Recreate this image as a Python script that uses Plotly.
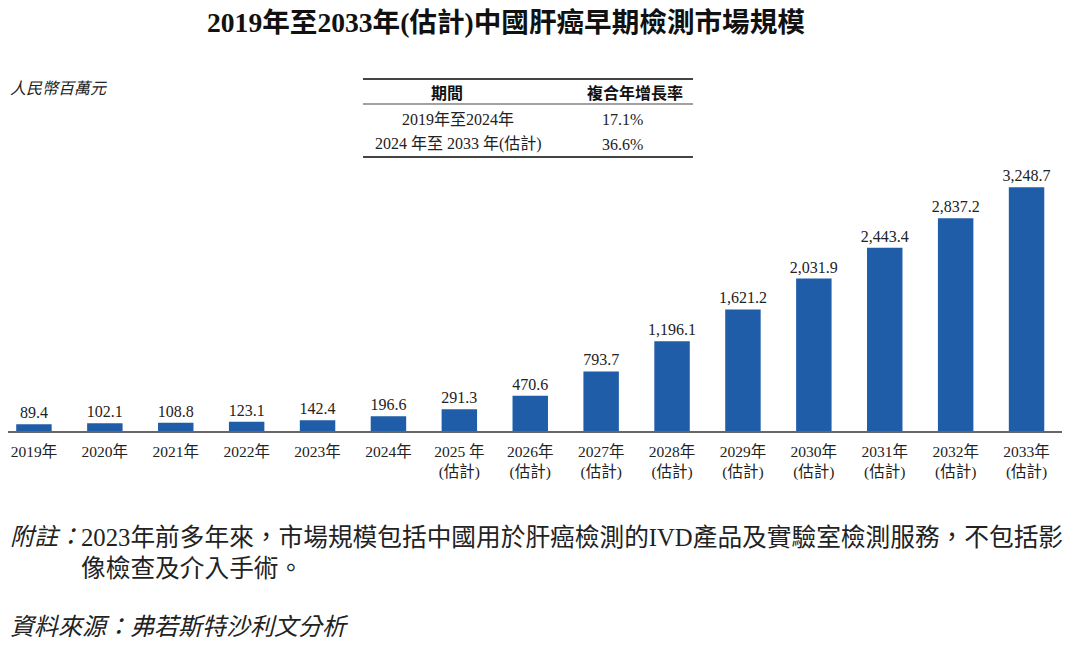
import plotly.graph_objects as go

years = ["2019年", "2020年", "2021年", "2022年", "2023年", "2024年",
         "2025 年<br>(估計)", "2026年<br>(估計)", "2027年<br>(估計)", "2028年<br>(估計)",
         "2029年<br>(估計)", "2030年<br>(估計)", "2031年<br>(估計)", "2032年<br>(估計)",
         "2033年<br>(估計)"]
values = [89.4, 102.1, 108.8, 123.1, 142.4, 196.6, 291.3, 470.6, 793.7, 1196.1,
          1621.2, 2031.9, 2443.4, 2837.2, 3248.7]

title = "2019年至2033年(估計)中國肝癌早期檢測市場規模"
unit = "人民幣百萬元"
table_header = ["期間", "複合年增長率"]
table_periods = ["2019年至2024年", "2024 年至 2033 年(估計)"]
table_cagr = ["17.1%", "36.6%"]
note_label = "附註："
note_lines = ["2023年前多年來，市場規模包括中國用於肝癌檢測的IVD產品及實驗室檢測服務，不包括影",
              "像檢查及介入手術。"]
source = "資料來源：弗若斯特沙利文分析"

# page offset (browser body margin)
OFF = 8
W, H = 1072, 637
ML, MR, MT, MB = 0, 18, 153, 214
PW = W - ML - MR
PH = H - MT - MB
FONT = "Liberation Serif, Noto Sans CJK TC, serif"
TXT = "#222222"


def px(x):
    return (x - OFF - ML) / PW


def py(y):
    return (H - MB - (y - OFF)) / PH


fig = go.Figure()
fig.add_trace(go.Bar(
    x=list(range(len(years))), y=values,
    marker=dict(color="#1F5DA8", line=dict(width=0)),
    text=values, texttemplate="%{y:,.1f}", textposition="outside",
    constraintext="none",
    textfont=dict(family=FONT, size=16, color=TXT),
    cliponaxis=False, hoverinfo="skip",
))

fig.update_layout(
    width=W, height=H,
    margin=dict(l=ML, r=MR, t=MT, b=MB),
    paper_bgcolor="white", plot_bgcolor="white",
    bargap=0.5, showlegend=False,
    font=dict(family=FONT, color=TXT),
    xaxis=dict(tickmode="array", tickvals=list(range(len(years))), ticktext=years,
               range=[-0.366, len(years) - 0.5], showline=True, linecolor="#666666",
               linewidth=2, ticks="outside", ticklen=5, tickcolor="rgba(0,0,0,0)",
               showgrid=False, zeroline=False,
               tickfont=dict(family=FONT, size=15.5, color=TXT)),
    yaxis=dict(range=[0, 3600], visible=False, showgrid=False, zeroline=False),
)

ann = []
ann.append(dict(text="<b>" + title + "</b>", x=px(506), y=py(22), xref="paper", yref="paper",
                showarrow=False, xanchor="center", yanchor="middle",
                font=dict(family=FONT, size=27.6, color="#111111")))
ann.append(dict(text="<i>" + unit + "</i>", x=px(8), y=py(88), xref="paper", yref="paper",
                showarrow=False, xanchor="left", yanchor="middle",
                font=dict(family=FONT, size=16, color=TXT)))
# table
ann.append(dict(text="<b>" + table_header[0] + "</b>", x=px(447), y=py(93), xref="paper", yref="paper",
                showarrow=False, xanchor="center", yanchor="middle",
                font=dict(family=FONT, size=16, color="#111111")))
ann.append(dict(text="<b>" + table_header[1] + "</b>", x=px(635), y=py(93), xref="paper", yref="paper",
                showarrow=False, xanchor="center", yanchor="middle",
                font=dict(family=FONT, size=16, color="#111111")))
for i, (p, c) in enumerate(zip(table_periods, table_cagr)):
    yy = 120 + i * 24
    ann.append(dict(text=p, x=px(458), y=py(yy), xref="paper", yref="paper",
                    showarrow=False, xanchor="center", yanchor="middle",
                    font=dict(family=FONT, size=16, color=TXT)))
    ann.append(dict(text=c, x=px(622), y=py(yy), xref="paper", yref="paper",
                    showarrow=False, xanchor="center", yanchor="middle",
                    font=dict(family=FONT, size=16, color=TXT)))
# notes
ann.append(dict(text="<i>" + note_label + "</i>", x=px(8), y=py(537), xref="paper", yref="paper",
                showarrow=False, xanchor="left", yanchor="middle",
                font=dict(family=FONT, size=24, color=TXT)))
for i, line in enumerate(note_lines):
    ann.append(dict(text=line, x=px(79), y=py(537 + 31 * i), xref="paper", yref="paper",
                    showarrow=False, xanchor="left", yanchor="middle",
                    font=dict(family=FONT, size=24.7, color=TXT)))
ann.append(dict(text="<i>" + source + "</i>", x=px(8), y=py(627), xref="paper", yref="paper",
                showarrow=False, xanchor="left", yanchor="middle",
                font=dict(family=FONT, size=24, color=TXT)))
fig.update_layout(annotations=ann)

shapes = []
for yy, w in [(79, 2), (104, 1.2), (157, 2)]:
    shapes.append(dict(type="line", xref="paper", yref="paper", x0=px(363), x1=px(693),
                       y0=py(yy), y1=py(yy), line=dict(color="#444444", width=w)))
fig.update_layout(shapes=shapes)

fig.write_html("out.html")
